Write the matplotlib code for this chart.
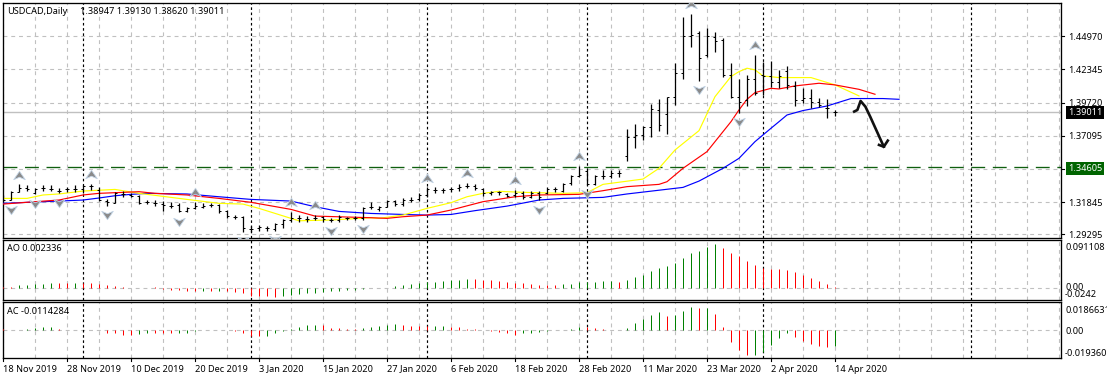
import matplotlib
matplotlib.use("Agg")
import matplotlib.pyplot as plt
from matplotlib.path import Path

plt.rcParams['font.family'] = ['Noto Sans', 'DejaVu Sans']

W, H = 1107, 379

high = [1.3241,1.3272,1.3325,1.3320,1.3299,1.3320,1.3320,1.3293,1.3301,1.3320,1.3320,1.3328,1.3301,1.3206,1.3267,1.3272,1.3254,1.3241,1.3201,1.3201,1.3193,1.3183,1.3180,1.3143,1.3188,1.3175,1.3180,1.3169,1.3122,1.3082,1.3074,1.2995,1.3003,1.2995,1.3021,1.3048,1.3109,1.3082,1.3074,1.3082,1.3074,1.3056,1.3082,1.3069,1.3074,1.3148,1.3188,1.3153,1.3201,1.3201,1.3214,1.3227,1.3254,1.3301,1.3301,1.3293,1.3307,1.3328,1.3333,1.3328,1.3293,1.3272,1.3272,1.3259,1.3280,1.3272,1.3272,1.3272,1.3307,1.3301,1.3338,1.3399,1.3473,1.3439,1.3399,1.3439,1.3439,1.3439,1.3761,1.3803,1.3787,1.3961,1.4001,1.4014,1.4283,1.4653,1.4674,1.4539,1.4566,1.4534,1.4487,1.4283,1.4157,1.4191,1.4349,1.4297,1.4302,1.4231,1.4262,1.4143,1.4091,1.4080,1.4006,1.3998,1.3913]
low = [1.3196,1.3201,1.3262,1.3275,1.3246,1.3275,1.3275,1.3254,1.3267,1.3267,1.3254,1.3280,1.3190,1.3156,1.3175,1.3222,1.3222,1.3169,1.3169,1.3156,1.3117,1.3135,1.3103,1.3109,1.3127,1.3135,1.3143,1.3101,1.3056,1.3048,1.2950,1.2950,1.2958,1.2958,1.2958,1.2977,1.3029,1.3029,1.3029,1.3043,1.3029,1.3029,1.3029,1.3043,1.3043,1.3043,1.3127,1.3117,1.3143,1.3153,1.3153,1.3188,1.3193,1.3227,1.3259,1.3259,1.3267,1.3275,1.3293,1.3280,1.3235,1.3241,1.3241,1.3227,1.3227,1.3209,1.3214,1.3201,1.3246,1.3267,1.3267,1.3320,1.3381,1.3320,1.3320,1.3365,1.3378,1.3386,1.3513,1.3610,1.3676,1.3703,1.3750,1.3724,1.3953,1.4159,1.4415,1.4143,1.4331,1.4376,1.4178,1.4011,1.3893,1.3945,1.4033,1.4033,1.4093,1.4085,1.4077,1.3948,1.3972,1.3927,1.3940,1.3853,1.3862]
open_ = [1.3201,1.3201,1.3267,1.3299,1.3259,1.3299,1.3291,1.3272,1.3285,1.3288,1.3288,1.3312,1.3280,1.3196,1.3180,1.3249,1.3241,1.3235,1.3185,1.3180,1.3169,1.3156,1.3161,1.3117,1.3135,1.3148,1.3161,1.3161,1.3117,1.3069,1.3069,1.2974,1.2977,1.2977,1.2969,1.3011,1.3043,1.3056,1.3051,1.3061,1.3064,1.3043,1.3043,1.3056,1.3056,1.3056,1.3143,1.3127,1.3148,1.3193,1.3169,1.3201,1.3206,1.3241,1.3280,1.3280,1.3288,1.3293,1.3315,1.3315,1.3288,1.3259,1.3262,1.3246,1.3241,1.3259,1.3227,1.3259,1.3254,1.3285,1.3275,1.3333,1.3391,1.3433,1.3328,1.3391,1.3391,1.3417,1.3549,1.3697,1.3716,1.3777,1.3914,1.3882,1.4014,1.4204,1.4500,1.4521,1.4349,1.4489,1.4468,1.4191,1.4014,1.3993,1.4157,1.4191,1.4183,1.4138,1.4223,1.4104,1.3993,1.4006,1.3975,1.3927,1.38947]
close = [1.3201,1.3267,1.3299,1.3288,1.3291,1.3299,1.3291,1.3272,1.3285,1.3288,1.3312,1.3312,1.3201,1.3188,1.3254,1.3249,1.3235,1.3180,1.3185,1.3180,1.3161,1.3156,1.3117,1.3135,1.3156,1.3153,1.3159,1.3117,1.3074,1.3069,1.2977,1.2974,1.2985,1.2977,1.3011,1.3043,1.3056,1.3056,1.3051,1.3061,1.3048,1.3043,1.3064,1.3056,1.3056,1.3135,1.3143,1.3143,1.3193,1.3169,1.3201,1.3201,1.3241,1.3288,1.3280,1.3280,1.3288,1.3307,1.3315,1.3293,1.3259,1.3262,1.3262,1.3235,1.3259,1.3227,1.3259,1.3227,1.3285,1.3285,1.3328,1.3391,1.3399,1.3328,1.3391,1.3394,1.3417,1.3417,1.3697,1.3716,1.3782,1.3919,1.3795,1.4014,1.4204,1.4500,1.4508,1.4323,1.4495,1.4460,1.4191,1.4019,1.3980,1.4157,1.4046,1.4183,1.4133,1.4183,1.4112,1.3993,1.4006,1.3975,1.3953,1.3927,1.39011]

blue_i = [0,4,10,12,14,16,18,23,27,31,36,39,42,46,50,53,56,59,63,67,70,75,78,85,87,90,92,94,95,96,97,98,100,103,106,110,112]
blue_v = [1.3175,1.3185,1.3201,1.3217,1.3235,1.3246,1.3254,1.3249,1.3227,1.3206,1.3193,1.3148,1.3111,1.3095,1.3087,1.3082,1.3087,1.3117,1.3153,1.3201,1.3214,1.3222,1.3249,1.3301,1.3351,1.3452,1.3531,1.3663,1.3716,1.3769,1.3821,1.3874,1.3909,1.3945,1.4004,1.4004,1.3998]
red_i = [0,4,7,10,12,17,19,23,27,31,36,39,46,48,50,53,56,60,64,67,72,75,78,82,83,85,88,89,91,92,93,94,96,97,99,102,104,107,109]
red_v = [1.3169,1.3188,1.3201,1.3241,1.3254,1.3267,1.3254,1.3241,1.3214,1.3183,1.3127,1.3074,1.3061,1.3056,1.3069,1.3082,1.3122,1.3188,1.3227,1.3241,1.3246,1.3275,1.3307,1.3325,1.3346,1.3452,1.3584,1.3663,1.3821,1.3914,1.3998,1.4051,1.4085,1.4080,1.4104,1.4125,1.4112,1.4077,1.4038]
yellow_i = [0,3,5,7,10,14,17,23,27,30,32,36,37,41,46,47,50,53,56,58,60,62,65,70,73,75,80,82,84,87,89,91,92,93,94,95,97,101,104,107]
yellow_v = [1.3214,1.3214,1.3241,1.3249,1.3272,1.3285,1.3254,1.3206,1.3175,1.3169,1.3135,1.3056,1.3037,1.3043,1.3061,1.3056,1.3082,1.3135,1.3180,1.3227,1.3254,1.3270,1.3262,1.3254,1.3259,1.3325,1.3367,1.3452,1.3597,1.3750,1.4019,1.4178,1.4217,1.4244,1.4231,1.4183,1.4170,1.4170,1.4112,1.4025]

ao = [0.0021,0.0021,0.0056,0.0049,0.007,0.007,0.0098,0.0098,0.0098,0.0098,0.0098,0.0098,0.0077,0.0056,0.0028,0.0014,0,0,0,0.0014,-0.0021,-0.0056,-0.0049,-0.007,-0.007,-0.0077,-0.007,-0.007,-0.0077,-0.0091,-0.0119,-0.0168,-0.0168,-0.0182,-0.0196,-0.0175,-0.0154,-0.0133,-0.0119,-0.0105,-0.0091,-0.0077,-0.007,-0.0056,-0.0056,-0.0035,-0.0014,0,0,0.0035,0.0056,0.0077,0.0098,0.0112,0.0119,0.014,0.0161,0.0161,0.0182,0.0182,0.0168,0.0161,0.014,0.0119,0.0098,0.0098,0.0077,0.0056,0.0056,0.0049,0.0077,0.0077,0.0119,0.0119,0.0119,0.014,0.014,0.0119,0.0161,0.0224,0.0266,0.035,0.0406,0.0448,0.0518,0.0616,0.0721,0.0784,0.0868,0.0911,0.0847,0.0742,0.0665,0.056,0.0476,0.042,0.0392,0.0392,0.0371,0.0329,0.0266,0.0203,0.014,0.0077,0.0023]
ao_dir = "rrgggggrrg" "rrrrrrrrrr" "rrrrrgrgrr" "rrrrrggggg" "gggggggggg" "gggggggggr" "rrrrrrrrrr" "gggggggrgg" "gggggggggg" "rrrrrrrrrr" "rrrrr"
ac = [0.00053,0.00027,0.00027,0.0008,0.00133,0.00265,0.00265,0.00106,0.00027,0,0,0.00027,0.00027,-0.00265,-0.00265,-0.00371,-0.00371,-0.00318,-0.00212,-0.00212,-0.00265,-0.00265,-0.00265,-0.00265,-0.0008,-0.00027,-0.00027,0,0,-0.00106,-0.00212,-0.00424,-0.00451,-0.00424,-0.00265,-0.00053,0.0008,0.00265,0.00398,0.00398,0.00398,0.00159,0.00159,0.00106,0.00106,0.00186,0.00265,0.00345,0.00398,0.00477,0.00398,0.00345,0.00345,0.00292,0.00345,0.00345,0.00265,0.00212,0.00106,0.00053,0,-0.00106,-0.00159,-0.00265,-0.00345,-0.00265,-0.00265,-0.00186,-0.00106,0.00027,0.00027,0.0008,0.00265,0.00265,0.00159,0.00106,0.00027,0.00027,0.00159,0.00583,0.00901,0.01219,0.01458,0.0114,0.01166,0.01537,0.01866,0.01776,0.01776,0.01299,0.00265,-0.00928,-0.0159,-0.01936,-0.01936,-0.01749,-0.01166,-0.00583,-0.00265,-0.0053,-0.00848,-0.01087,-0.01246,-0.01325,-0.01246]
ac_dir = "rrgggggrrr" "rgrrrrrggr" "rrgggggggr" "rrrggggggg" "rrrrrggggg" "rrrrggrrrr" "rrrrrggggg" "gggrrrrrgg" "gggrgggrgr" "rrrrgggggr" "rrrrg"

fractal_up = [2,11,24,36,39,53,58,64,72,86,94]
fractal_down = [1,4,7,13,22,30,34,41,45,67,73,87,92]
sketch_i = [106.4,106.8,107.2,107.8,108.4,110.1]
sketch_v = [1.3901,1.3914,1.3985,1.3940,1.3861,1.3623]
head_i = [109.5,110.1,110.6]
head_v = [1.3637,1.3623,1.3671]

price_ticks = [1.44970,1.42345,1.39720,1.37095,1.34470,1.31845,1.29295]
price_labels = ["1.44970","1.42345","1.39720","1.37095",None,"1.31845","1.29295"]
date_labels = ["18 Nov 2019","28 Nov 2019","10 Dec 2019","20 Dec 2019","3 Jan 2020","15 Jan 2020","27 Jan 2020","6 Feb 2020","18 Feb 2020","28 Feb 2020","11 Mar 2020","23 Mar 2020","2 Apr 2020","14 Apr 2020"]
separators = [10,31,53,73,95,121]
bid = 1.39011
level = 1.34605
symbol = "USDCAD,Daily"
ohlc_text = "1.38947 1.39130 1.38620 1.39011"

FS = 6.6
GRID = '#c0c0c0'
GREEN = '#008000'
RED = '#ff0000'
TXT = '#000000'
n = len(close)
xs = list(range(n))
XLIM = (-0.06, 132.25)

fig = plt.figure(figsize=(W/100, H/100), dpi=100, facecolor='white')

def panel(top, bottom):
    a = fig.add_axes([2.5/W, 1-bottom/H, (1061-2.5)/W, (bottom-top)/H])
    a.set_xlim(*XLIM)
    a.set_xticks([])
    a.set_yticks([])
    for s in a.spines.values():
        s.set_linewidth(0.95)
        s.set_color('black')
    a.set_axisbelow(True)
    for k in range(0, 133, 4):
        a.axvline(k, color=GRID, lw=0.8, dashes=(3.5, 3.5), zorder=1)
    for k in separators:
        a.axvline(k, color='black', lw=0.85, dashes=(2.2, 2.2), zorder=2)
    return a

ax = panel(2.5, 237.7)
ao_ax = panel(239.5, 300)
ac_ax = panel(302.3, 358.3)

ax.set_ylim(1.2903, 1.4764)
ao_ax.set_ylim(-0.0259, 0.1016)
ac_ax.set_ylim(-0.02226, 0.0220)

for p in price_ticks:
    ax.axhline(p, color=GRID, lw=0.8, dashes=(3.5, 3.5), zorder=1)
ao_ax.axhline(0, color=GRID, lw=0.8, dashes=(3.5, 3.5), zorder=1)
ac_ax.axhline(0, color=GRID, lw=0.8, dashes=(3.5, 3.5), zorder=1)

ax.axhline(bid, color='#c0c0c0', lw=1.0, zorder=1.5)
ax.axhline(level, color='#0f5f0f', lw=0.95, dashes=(10.5, 5.8), zorder=1.5)

ax.plot(blue_i, blue_v, color='#0000ff', lw=0.85, zorder=3)
ax.plot(yellow_i, yellow_v, color='#ffff00', lw=0.85, zorder=3.1)
ax.plot(red_i, red_v, color='#ff0000', lw=0.85, zorder=3.2)

wicks = ax.vlines(xs, low, high, color='black', lw=0.9, zorder=4)
opens = ax.hlines(open_, [x-0.3 for x in xs], xs, color='black', lw=0.72, zorder=4)
closes = ax.hlines(close, xs, [x+0.3 for x in xs], color='black', lw=0.72, zorder=4)
for c in (wicks, opens, closes):
    c.set_snap(True)

up_path = Path([(0,0.72),(1,-0.72),(0,-0.3),(-1,-0.72),(0,0.72)],
               [Path.MOVETO,Path.LINETO,Path.LINETO,Path.LINETO,Path.CLOSEPOLY])
down_path = Path([(0,-0.72),(1,0.72),(0,0.3),(-1,0.72),(0,-0.72)],
                 [Path.MOVETO,Path.LINETO,Path.LINETO,Path.LINETO,Path.CLOSEPOLY])
ax.scatter(fractal_up, [high[i]+0.0078 for i in fractal_up], marker=up_path, s=70,
           facecolor='#8a8a8a', edgecolor='#c4d6e8', linewidth=0.6, zorder=5)
ax.scatter(fractal_down, [low[i]-0.0075 for i in fractal_down], marker=down_path, s=70,
           facecolor='#8a8a8a', edgecolor='#c4d6e8', linewidth=0.6, zorder=5)

ax.plot(sketch_i, sketch_v, color='#111111', lw=1.9, zorder=6, solid_joinstyle='round')
ax.plot(head_i, head_v, color='#111111', lw=1.9, zorder=6, solid_joinstyle='round')

ao_bars = ao_ax.vlines(xs, 0, ao, colors=[GREEN if c == 'g' else RED for c in ao_dir], lw=0.72, zorder=3)
ac_bars = ac_ax.vlines(xs, 0, ac, colors=[GREEN if c == 'g' else RED for c in ac_dir], lw=0.72, zorder=3)
ao_bars.set_snap(True)
ac_bars.set_snap(True)

def ptext(px, py, s, color=TXT, **kw):
    fig.text(px/W, 1-py/H, s, fontsize=FS, color=color, va='baseline', ha='left', **kw)

ptext(7, 14, symbol)
ptext(79.5, 14, ohlc_text)
ptext(7, 251, "AO 0.002336")
ptext(7, 314.5, "AC -0.0114284")

tr = ax.get_yaxis_transform()
for p, lab in zip(price_ticks, price_labels):
    ax.plot([1, 1.003], [p, p], transform=tr, color='black', lw=0.8, clip_on=False)
    if lab:
        ax.annotate(lab, xy=(1, p), xycoords=tr, xytext=(5.0, 0), textcoords='offset points',
                    fontsize=FS, va='center_baseline', ha='left', color=TXT)

for y_val, face, lab in [(bid, 'black', "1.39011"), (level, '#006400', "1.34605")]:
    ax.annotate(lab, xy=(1, y_val), xycoords=tr, xytext=(5.0, 0), textcoords='offset points',
                fontsize=FS, va='center_baseline', ha='left', color='white', zorder=10, annotation_clip=False,
                bbox=dict(boxstyle='square,pad=0.22', facecolor=face, edgecolor='none'))

ptext(1065, 250, "0.091108")
ptext(1065, 290.5, "0.00")
ptext(1065, 297, "-0.0242")
ptext(1065, 313, "0.0186631")
ptext(1065, 334, "0.00")
ptext(1065, 356, "-0.019360")

btr = ac_ax.get_xaxis_transform()
for k, lab in enumerate(date_labels):
    xi = 8*k
    ac_ax.plot([xi, xi], [0, -0.05], transform=btr, color='black', lw=0.8, clip_on=False)
    fig.text((3 + 8*k*8)/W, 1-371.5/H, lab, fontsize=FS, color=TXT, va='baseline', ha='left')

fig.savefig("out.png", dpi=100, facecolor='white')
